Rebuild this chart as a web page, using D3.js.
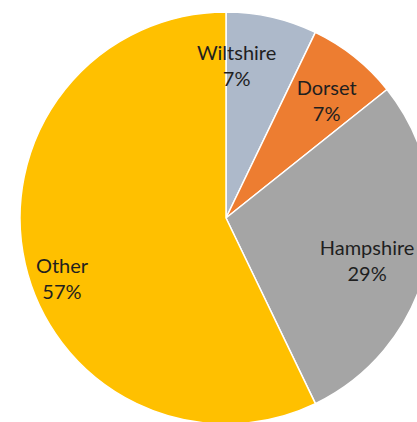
<!DOCTYPE html>
<html>
<head>
<meta charset="utf-8">
<script src="https://cdn.jsdelivr.net/npm/d3@7"></script>
<style>
  html, body { margin: 0; padding: 0; background: #fff; overflow: hidden; }
  svg { display: block; }
</style>
</head>
<body>
<svg id="chart" width="417" height="422"></svg>
<script>
// Data
const categories = ["Wiltshire", "Dorset", "Hampshire", "Other"];
const values = [7.14, 7.14, 28.57, 57.14];
const percentLabels = ["7%", "7%", "29%", "57%"];
const colors = ["#ADB9CA", "#ED7D31", "#A5A5A5", "#FFC000"];

// Layout
const width = 417, height = 422;
const cx = 226, cy = 218, radius = 206;
// label placement (angle in degrees clockwise from top, radius in px)
const labelLayout = {
  "Wiltshire": { angle: 4, r: 152 },
  "Dorset": { angle: 40.8, r: 154 },
  "Hampshire": { angle: 107, r: 147.5 },
  "Other": { angle: 249.6, r: 175 }
};

const svg = d3.select("#chart");
const g = svg.append("g").attr("transform", `translate(${cx},${cy})`);

const data = categories.map((c, i) => ({ name: c, value: values[i], pct: percentLabels[i], color: colors[i] }));

const pie = d3.pie().value(d => d.value).sort(null);
const arc = d3.arc().innerRadius(0).outerRadius(radius);

const arcs = pie(data);

g.selectAll("path.slice")
  .data(arcs)
  .join("path")
  .attr("class", "slice")
  .attr("d", arc)
  .attr("fill", d => d.data.color)
  .attr("stroke", "#ffffff")
  .attr("stroke-width", 1.5)
  .attr("stroke-linejoin", "round");

const labels = g.selectAll("text.label")
  .data(arcs)
  .join("text")
  .attr("class", "label")
  .attr("text-anchor", "middle")
  .attr("font-family", "Lato, 'Open Sans', sans-serif")
  .attr("font-size", 20)
  .attr("fill", "#1f1f1f")
  .attr("transform", d => {
    const L = labelLayout[d.data.name];
    const a = L.angle * Math.PI / 180;
    return `translate(${L.r * Math.sin(a)},${-L.r * Math.cos(a)})`;
  });

labels.append("tspan")
  .attr("x", 0)
  .attr("dy", "-0.3em")
  .text(d => d.data.name);
labels.append("tspan")
  .attr("x", 0)
  .attr("dy", "1.3em")
  .text(d => d.data.pct);
</script>
</body>
</html>
